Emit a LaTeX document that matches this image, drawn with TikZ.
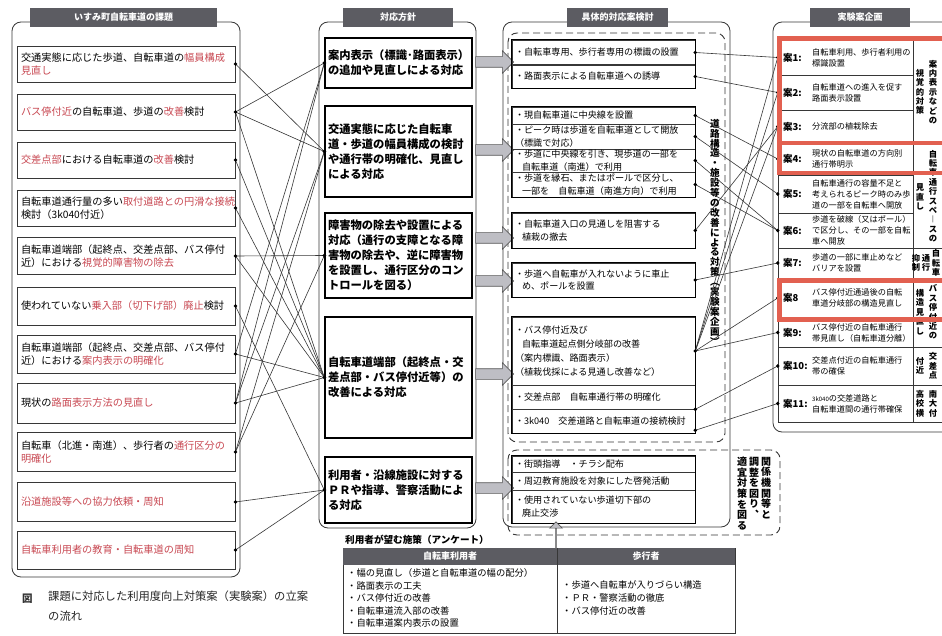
\documentclass[tikz,border=0pt]{standalone}
\usepackage{fontspec}
\setmainfont{Noto Sans CJK JP}
\usetikzlibrary{shapes.arrows}
\definecolor{hdr}{RGB}{92,92,98}
\definecolor{redt}{RGB}{200,72,82}
\definecolor{redbox}{RGB}{226,96,80}
\definecolor{ln}{RGB}{55,55,55}
\definecolor{arrfill}{RGB}{190,190,196}
\newcommand{\redtx}[1]{\textcolor{redt}{#1}}
\tikzset{
 hdrbox/.style={fill=hdr, text=white, font=\fontsize{9}{10}\selectfont\bfseries, minimum height=19, inner sep=0},
 outerbox/.style={draw=ln, rounded corners=9, line width=0.8},
 dashbox/.style={draw=ln, rounded corners=9, line width=0.9, dash pattern=on 7pt off 4pt},
 litem/.style={draw=ln, line width=0.9, minimum width=218, text width=210, align=left, inner xsep=4, font=\fontsize{10.2}{13}\selectfont},
 mbox/.style={draw=black, line width=1.3, minimum width=147, text width=141, align=left, inner xsep=3, font=\fontsize{11.3}{15}\selectfont\bfseries},
 trow/.style={draw=ln, line width=0.6, minimum width=183, text width=177, align=left, inner xsep=3, inner ysep=0, font=\fontsize{9.1}{12.5}\selectfont},
 tframe/.style={draw=black, line width=1.3},
 rrow/.style={draw=ln, line width=0.6, minimum width=135, inner sep=0},
 rcat/.style={draw=ln, line width=0.6, minimum width=57, inner sep=0},
 rlab/.style={anchor=west, inner sep=0, font=\fontsize{9.5}{10}\selectfont\bfseries},
 rdesc/.style={anchor=west, inner sep=0, align=left, font=\fontsize{8.2}{11}\selectfont},
 vtext/.style={inner sep=0, align=center, font=\fontsize{8.3}{9.4}\selectfont\bfseries},
 redframe/.style={draw=redbox, line width=4.5},
 conn/.style={draw=ln, line width=0.6},
 blockarrow/.style={single arrow, draw=gray!70!black, fill=arrfill, line width=0.6, minimum height=38, single arrow head extend=6, inner xsep=0, inner ysep=5, single arrow tip angle=90},
}
\begin{document}
\begin{tikzpicture}[x=1pt,y=-1pt]
\useasboundingbox (0,0) rectangle (942,636);
\clip (0,0) rectangle (942,636);
\fill[white] (0,0) rectangle (942,636);

% ---------- outer frames ----------
\draw[outerbox] (12,22) rectangle (240,577);
\node[hdrbox, minimum width=187] (h1) at (123.5,17.5) {いすみ町自転車道の課題};
\draw[outerbox] (319,22) rectangle (476,528);
\node[hdrbox, minimum width=110] (h2) at (398,17.5) {対応方針};
\draw[outerbox] (503,22) rectangle (730,527);
\node[hdrbox, minimum width=101] (h3) at (617.5,17.5) {具体的対応案検討};
\draw[outerbox] (773,22) rectangle (975,432);
\node[hdrbox, minimum width=100] (h4) at (860,17.5) {実験案企画};
\draw[dashbox] (508,33) rectangle (725,442);
\draw[dashbox] (508,450) rectangle (780,535);

% ---------- left column ----------
\node[litem, minimum height=36] (L1) at (126,64) {交通実態に応じた歩道、自転車道の\redtx{幅員構成}\\\redtx{見直し}};
\node[litem, minimum height=36] (L2) at (126,112) {\redtx{バス停付近}の自転車道、歩道の\redtx{改善}検討};
\node[litem, minimum height=36] (L3) at (126,160) {\redtx{交差点部}における自転車道の\redtx{改善}検討};
\node[litem, minimum height=36] (L4) at (126,208) {自転車道通行量の多い\redtx{取付道路との円滑な接続}\\検討（3k040付近）};
\node[litem, minimum height=37] (L5) at (126,256) {自転車道端部（起終点、交差点部、バス停付\\近）における\redtx{視覚的障害物の除去}};
\node[litem, minimum height=38] (L6) at (126,306) {使われていない\redtx{乗入部（切下げ部）廃止}検討};
\node[litem, minimum height=38] (L7) at (126,354) {自転車道端部（起終点、交差点部、バス停付\\近）における\redtx{案内表示の明確化}};
\node[litem, minimum height=40] (L8) at (126,403) {現状の\redtx{路面表示方法の見直し}};
\node[litem, minimum height=39] (L9) at (126,452) {自転車（北進・南進）、歩行者の\redtx{通行区分の}\\\redtx{明確化}};
\node[litem, minimum height=39] (L10) at (126,502) {\redtx{沿道施設等への協力依頼・周知}};
\node[litem, minimum height=38] (L11) at (126,550) {\redtx{自転車利用者の教育・自転車道の周知}};

% ---------- middle column ----------
\node[mbox, minimum height=50] (M1) at (398.5,63) {案内表示（標識･路面表示）\\の追加や見直しによる対応};
\node[mbox, minimum height=91] (M2) at (398.5,151.5) {交通実態に応じた自転車\\道・歩道の幅員構成の検討\\や通行帯の明確化、見直し\\による対応};
\node[mbox, minimum height=85] (M3) at (398.5,255.5) {障害物の除去や設置による\\対応（通行の支障となる障\\害物の除去や、逆に障害物\\を設置し、通行区分のコン\\トロールを図る）};
\node[mbox, minimum height=121] (M4) at (398.5,377.5) {自転車道端部（起終点・交\\差点部・バス停付近等）の\\改善による対応};
\node[mbox, minimum height=66] (M5) at (398.5,490) {利用者・沿線施設に対する\\ＰＲや指導、警察活動によ\\る対応};

% ---------- block arrows ----------
\node[blockarrow] (A1) at (492,62) {};
\node[blockarrow] (A2) at (492,150) {};
\node[blockarrow] (A3) at (492,238) {};
\node[blockarrow] (A4) at (492,281) {};
\node[blockarrow] (A5) at (492,374) {};
\node[blockarrow] (A6) at (492,488) {};

% ---------- third column ----------
\node[trow, minimum height=25] (T1a) at (603.5,52.5) {・自転車専用、歩行者専用の標識の設置};
\node[trow, minimum height=24] (T1b) at (603.5,76.5) {・路面表示による自転車道への誘導};
\draw[tframe] (T1a.north west) rectangle (T1b.south east);

\node[trow, minimum height=17] (T2a) at (603.5,115.5) {・現自転車道に中央線を設置};
\node[trow, minimum height=25] (T2b) at (603.5,136.5) {・ピーク時は歩道を自転車道として開放\\（標識で対応）};
\node[trow, minimum height=23] (T2c) at (603.5,160.5) {・歩道に中央線を引き、現歩道の一部を\\\hspace*{7pt}自転車道（南進）で利用};
\node[trow, minimum height=25] (T2d) at (603.5,184.5) {・歩道を縁石、またはポールで区分し、\\\hspace*{7pt}一部を　自転車道（南進方向）で利用};
\draw[tframe] (T2a.north west) rectangle (T2d.south east);

\node[trow, minimum height=35] (T3) at (603.5,230.5) {・自転車道入口の見通しを阻害する\\\hspace*{7pt}植栽の撤去};
\draw[tframe] (T3.north west) rectangle (T3.south east);
\node[trow, minimum height=34] (T4) at (603.5,280) {・歩道へ自転車が入れないように車止\\\hspace*{7pt}め、ポールを設置};
\draw[tframe] (T4.north west) rectangle (T4.south east);

\node[trow, minimum height=68, font=\fontsize{9.1}{14}\selectfont] (T5a) at (603.5,351) {・バス停付近及び\\\hspace*{7pt}自転車道起点側分岐部の改善\\（案内標識、路面表示）\\（植栽伐採による見通し改善など）};
\node[trow, minimum height=24] (T5b) at (603.5,397) {・交差点部　自転車通行帯の明確化};
\node[trow, minimum height=24] (T5c) at (603.5,421) {・3k040　交差道路と自転車道の接続検討};
\draw[tframe] (T5a.north west) rectangle (T5c.south east);

\node[trow, minimum height=16] (T6a) at (603.5,464) {・街頭指導　・チラシ配布};
\node[trow, minimum height=18] (T6b) at (603.5,481) {・周辺教育施設を対象にした啓発活動};
\node[trow, minimum height=33] (T6c) at (603.5,506.5) {・使用されていない歩道切下部の\\\hspace*{7pt}廃止交渉};
\draw[tframe] (T6a.north west) rectangle (T6c.south east);

\node[vtext, font=\fontsize{9.6}{9.9}\selectfont\bfseries] (vt1) at (715,232) {道\\路\\構\\造\\・\\施\\設\\等\\の\\改\\善\\に\\よ\\る\\対\\策\\︵\\実\\験\\案\\企\\画\\︶};
\node[vtext, anchor=north, font=\fontsize{10}{10.6}\selectfont\bfseries] (vr1) at (766,457) {関\\係\\機\\関\\等\\と};
\node[vtext, anchor=north, font=\fontsize{10}{10.6}\selectfont\bfseries] (vr2) at (754,457) {調\\整\\を\\図\\り\\︑};
\node[vtext, anchor=north, font=\fontsize{10}{10.6}\selectfont\bfseries] (vr3) at (742,457) {適\\宜\\対\\策\\を\\図\\る};

% ---------- right table ----------
\node[rrow, minimum height=35] (R1) at (845.5,57.5) {};
\node[rrow, minimum height=35] (R2) at (845.5,92.5) {};
\node[rrow, minimum height=33] (R3) at (845.5,126.5) {};
\node[rrow, minimum height=32] (R4) at (845.5,159) {};
\node[rrow, minimum height=38] (R5) at (845.5,194) {};
\node[rrow, minimum height=35] (R6) at (845.5,230.5) {};
\node[rrow, minimum height=30] (R7) at (845.5,263) {};
\node[rrow, minimum height=40] (R8) at (845.5,298) {};
\node[rrow, minimum height=29] (R9) at (845.5,332.5) {};
\node[rrow, minimum height=38] (R10) at (845.5,366) {};
\node[rrow, minimum height=37] (R11) at (845.5,403.5) {};
\node[rcat, minimum height=103] (C1) at (941.5,91.5) {};
\node[rcat, minimum height=105] (C2) at (941.5,195.5) {};
\node[rcat, minimum height=30] (C3) at (941.5,263) {};
\node[rcat, minimum height=69] (C4) at (941.5,312.5) {};
\node[rcat, minimum height=38] (C5) at (941.5,366) {};
\node[rcat, minimum height=37] (C6) at (941.5,403.5) {};

\node[rlab] (K1) at (783,57.5) {案1:};
\node[rlab] (K2) at (783,92.5) {案2:};
\node[rlab] (K3) at (783,126.5) {案3:};
\node[rlab] (K4) at (783,159) {案4:};
\node[rlab] (K5) at (783,194) {案5:};
\node[rlab] (K6) at (783,230.5) {案6:};
\node[rlab] (K7) at (783,263) {案7:};
\node[rlab] (K8) at (783,298) {案8};
\node[rlab] (K9) at (783,332.5) {案9:};
\node[rlab] (K10) at (783,366) {案10:};
\node[rlab] (K11) at (783,403.5) {案11:};
\node[rdesc] (D1) at (812,57.5) {自転車利用、歩行者利用の\\標識設置};
\node[rdesc] (D2) at (812,92.5) {自転車道への進入を促す\\路面表示設置};
\node[rdesc] (D3) at (812,126.5) {分流部の植栽除去};
\node[rdesc] (D4) at (812,159) {現状の自転車道の方向別\\通行帯明示};
\node[rdesc] (D5) at (812,194) {自転車通行の容量不足と\\考えられるピーク時のみ歩\\道の一部を自転車へ開放};
\node[rdesc] (D6) at (812,230.5) {歩道を破線（又はポール）\\で区分し、その一部を自転\\車へ開放};
\node[rdesc] (D7) at (812,263) {歩道の一部に車止めなど\\バリアを設置};
\node[rdesc] (D8) at (812,298) {バス停付近通過後の自転\\車道分岐部の構造見直し};
\node[rdesc] (D9) at (812,332.5) {バス停付近の自転車通行\\帯見直し（自転車道分離）};
\node[rdesc] (D10) at (812,366) {交差点付近の自転車通行\\帯の確保};
\node[rdesc] (D11) at (812,403.5) {{\fontsize{6}{6}\selectfont 3k040}の交差道路と\\自転車道間の通行帯確保};

\node[vtext] (V1a) at (933,92) {案\\内\\表\\示\\な\\ど\\の};
\node[vtext] (V1b) at (920,92) {視\\覚\\的\\対\\策};
\node[vtext] (V2a) at (933,196) {自\\転\\車\\通\\行\\ス\\ペ\\︱\\ス\\の};
\node[vtext] (V2b) at (920,197) {見\\直\\し};
\node[vtext] (V3a) at (936,263) {自\\転\\車};
\node[vtext] (V3b) at (926,263) {通\\行};
\node[vtext] (V3c) at (916,263) {抑\\制};
\node[vtext] (V4a) at (933,312) {バ\\ス\\停\\付\\近\\の};
\node[vtext] (V4b) at (920,312) {構\\造\\見\\直\\し};
\node[vtext] (V5a) at (933,366) {交\\差\\点};
\node[vtext] (V5b) at (920,366) {付\\近};
\node[vtext] (V6a) at (933,403.5) {南\\大\\付};
\node[vtext] (V6b) at (920,403.5) {高\\校\\横};

% ---------- connectors left -> middle ----------
\draw[conn] (L1.east) -- (M2.west);
\draw[conn] (L2.east) -- (M1.west);
\draw[conn] (L2.east) -- (M2.west);
\draw[conn] (L2.east) -- (M4.west);
\draw[conn] (L3.east) -- (M4.west);
\draw[conn] (L4.east) -- (M4.west);
\draw[conn] (L5.east) -- (M3.west);
\draw[conn] (L5.east) -- (M4.west);
\draw[conn] (L6.east) -- (M5.west);
\draw[conn] (L7.east) -- (M1.west);
\draw[conn] (L7.east) -- (M4.west);
\draw[conn] (L8.east) -- (M1.west);
\draw[conn] (L8.east) -- (M2.west);
\draw[conn] (L8.east) -- (M4.west);
\draw[conn] (L9.east) -- (M2.west);
\draw[conn] (L9.east) -- (M3.west);
\draw[conn] (L10.east) -- (M5.west);
\draw[conn] (L11.east) -- (M5.west);
\foreach \n in {L1,L2,L3,L4,L5,L6,L7,L8,L9,L10,L11} \fill[black] (\n.east) circle (1.9);
\foreach \n in {M1,M2,M3,M4,M5} \fill[black] (\n.west) circle (1.9);

% ---------- connectors third -> right ----------
\coordinate (T5bd) at (T5b.south east);
\coordinate (T5cd) at ([yshift=3pt]T5c.south east);
\draw[conn] (T1a.east) -- (R1.west);
\draw[conn] (T1b.east) -- (R2.west);
\draw[conn] (T2a.east) -- (R4.west);
\draw[conn] (T2b.east) -- (R5.west);
\draw[conn] (T2c.east) -- (R6.west);
\draw[conn] (T2d.east) -- (R6.west);
\draw[conn] (T3.east) -- (R3.west);
\draw[conn] (T4.east) -- (R7.west);
\draw[conn] (T5a.east) -- (R1.west);
\draw[conn] (T5a.east) -- (R2.west);
\draw[conn] (T5a.east) -- (R3.west);
\draw[conn] (T5a.east) -- (R8.west);
\draw[conn] (T5a.east) -- (R9.west);
\draw[conn] (T5bd) -- (R10.west);
\draw[conn] (T5cd) -- (R11.west);
\foreach \n in {T1a,T1b,T2a,T2b,T2c,T2d,T3,T4,T5a} \fill[black] (\n.east) circle (1.9);
\fill[black] (T5bd) circle (1.9);
\fill[black] (T5cd) circle (1.9);
\foreach \n in {R1,R2,R3,R4,R5,R6,R7,R8,R9,R10,R11} \fill[black] (\n.west) circle (1.9);

% ---------- red frames ----------
\draw[redframe] (779.5,38.5) rectangle (960,143);
\draw[redframe] (779.5,143) rectangle (960,173);
\draw[redframe] (779.5,280.5) rectangle (960,319.5);

% ---------- bottom table ----------
\node[anchor=west, inner sep=0, font=\fontsize{9.6}{10}\selectfont\bfseries] (qt) at (345,540) {利用者が望む施策（アンケート）};
\node[draw=ln, line width=0.8, minimum width=392, minimum height=85, inner sep=0] (tab) at (539,590.5) {};
\node[fill=hdr, text=white, minimum width=214, minimum height=17, inner sep=0, font=\fontsize{9}{10}\selectfont\bfseries] (thc) at (450,556.5) {自転車利用者};
\node[fill=hdr, text=white, minimum width=178, minimum height=17, inner sep=0, font=\fontsize{9}{10}\selectfont\bfseries] (thp) at (646,556.5) {歩行者};
\draw[draw=ln, line width=0.8] (thc.north east) -- (thc.north east |- tab.south);
\node[anchor=west, inner sep=0, align=left, font=\fontsize{9.3}{12.5}\selectfont] (tl) at (347,598) {・幅の見直し（歩道と自転車道の幅の配分）\\・路面表示の工夫\\・バス停付近の改善\\・自転車道流入部の改善\\・自転車道案内表示の設置};
\node[anchor=west, inner sep=0, align=left, font=\fontsize{9.3}{13}\selectfont] (tr) at (562,598) {・歩道へ自転車が入りづらい構造\\・ＰＲ・警察活動の徹底\\・バス停付近の改善};
\node[blockarrow, shape border rotate=90, minimum height=27] (up) at (556,535.5) {};

% ---------- caption ----------
\node[anchor=west, inner sep=0, font=\fontsize{10.5}{11}\selectfont\bfseries, text=black!80] (figm) at (22,599) {図};
\node[anchor=north west, inner sep=0, align=left, font=\fontsize{11.3}{20}\selectfont, text=black!85] (cap) at (48,591) {課題に対応した利用度向上対策案（実験案）の立案\\の流れ};
\end{tikzpicture}
\end{document}
